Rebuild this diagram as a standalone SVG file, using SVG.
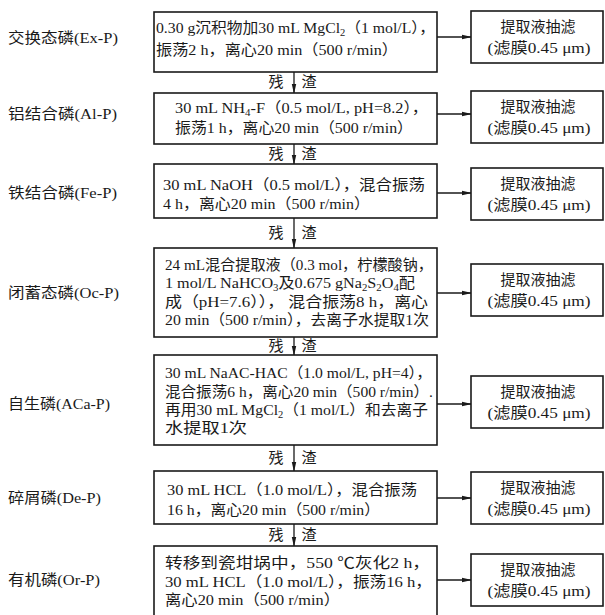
<svg xmlns="http://www.w3.org/2000/svg" width="605" height="615" viewBox="0 0 605 615">
<style>
text{font-family:"Liberation Serif","Noto Sans CJK SC",serif;font-size:15px;fill:#1a1a1a}
.lbl{font-size:15px}
.box{fill:#fff;stroke:#1a1a1a;stroke-width:1.6}
.ln{stroke:#1a1a1a;stroke-width:1.3;fill:none}
.sub{font-size:10px}
.c{text-anchor:middle}
</style>
<defs>
<marker id="ah" markerWidth="10" markerHeight="6" refX="9" refY="3" orient="auto" markerUnits="userSpaceOnUse">
<path d="M0,0.8 L10,3 L0,5.2 z" fill="#1a1a1a"/>
</marker>
</defs>
<rect width="605" height="615" fill="#fff"/>

<g id="labels">
<text class="lbl" x="8" y="43" textLength="110" lengthAdjust="spacingAndGlyphs">交换态磷(Ex-P)</text>
<text class="lbl" x="8" y="119" textLength="109" lengthAdjust="spacingAndGlyphs">铝结合磷(Al-P)</text>
<text class="lbl" x="8" y="198" textLength="109" lengthAdjust="spacingAndGlyphs">铁结合磷(Fe-P)</text>
<text class="lbl" x="8" y="298" textLength="111" lengthAdjust="spacingAndGlyphs">闭蓄态磷(Oc-P)</text>
<text class="lbl" x="8" y="409" textLength="102" lengthAdjust="spacingAndGlyphs">自生磷(ACa-P)</text>
<text class="lbl" x="8" y="503" textLength="93" lengthAdjust="spacingAndGlyphs">碎屑磷(De-P)</text>
<text class="lbl" x="8" y="585" textLength="92" lengthAdjust="spacingAndGlyphs">有机磷(Or-P)</text>
</g>

<g id="connectors">
<line class="ln" x1="437" y1="37" x2="471" y2="37" marker-end="url(#ah)"/>
<line class="ln" x1="437" y1="114" x2="471" y2="114" marker-end="url(#ah)"/>
<line class="ln" x1="437" y1="193" x2="471" y2="193" marker-end="url(#ah)"/>
<line class="ln" x1="437" y1="293" x2="471" y2="293" marker-end="url(#ah)"/>
<line class="ln" x1="437" y1="404" x2="471" y2="404" marker-end="url(#ah)"/>
<line class="ln" x1="437" y1="498" x2="471" y2="498" marker-end="url(#ah)"/>
<line class="ln" x1="437" y1="580" x2="471" y2="580" marker-end="url(#ah)"/>
<line class="ln" x1="294" y1="72" x2="294" y2="93" marker-end="url(#ah)"/>
<line class="ln" x1="294" y1="144" x2="294" y2="164" marker-end="url(#ah)"/>
<line class="ln" x1="294" y1="218" x2="294" y2="248" marker-end="url(#ah)"/>
<line class="ln" x1="294" y1="337" x2="294" y2="355" marker-end="url(#ah)"/>
<line class="ln" x1="294" y1="445" x2="294" y2="471" marker-end="url(#ah)"/>
<line class="ln" x1="294" y1="524" x2="294" y2="546" marker-end="url(#ah)"/>
<g id="residue-labels">
<text class="c" x="276" y="87">残</text><text class="c" x="309" y="87">渣</text>
<text class="c" x="276" y="159">残</text><text class="c" x="309" y="159">渣</text>
<text class="c" x="276" y="238">残</text><text class="c" x="309" y="238">渣</text>
<text class="c" x="276" y="351">残</text><text class="c" x="309" y="351">渣</text>
<text class="c" x="276" y="463">残</text><text class="c" x="309" y="463">渣</text>
<text class="c" x="276" y="540">残</text><text class="c" x="309" y="540">渣</text>
</g>
</g>

<g id="step1">
<rect class="box" x="154" y="12" width="283" height="60"/>
<text x="156" y="33" textLength="279" lengthAdjust="spacingAndGlyphs">0.30 g沉积物加30 mL MgCl<tspan class="sub" dy="3">2</tspan><tspan dy="-3">（1 mol/L），</tspan></text>
<text x="156" y="55" textLength="242" lengthAdjust="spacingAndGlyphs">振荡2 h，离心20 min（500 r/min）</text>
</g>
<g id="step2">
<rect class="box" x="154" y="93" width="283" height="51"/>
<text x="175" y="113" textLength="253" lengthAdjust="spacingAndGlyphs">30 mL NH<tspan class="sub" dy="3">4</tspan><tspan dy="-3">-F（0.5 mol/L, pH=8.2），</tspan></text>
<text x="175" y="133" textLength="238" lengthAdjust="spacingAndGlyphs">振荡1 h，离心20 min（500 r/min）</text>
</g>
<g id="step3">
<rect class="box" x="154" y="164" width="283" height="54"/>
<text x="163" y="190" textLength="262" lengthAdjust="spacingAndGlyphs">30 mL NaOH（0.5 mol/L），混合振荡</text>
<text x="163" y="209" textLength="207" lengthAdjust="spacingAndGlyphs">4 h，离心20 min（500 r/min）</text>
</g>
<g id="step4">
<rect class="box" x="154" y="248" width="283" height="89"/>
<text x="165" y="270" textLength="268" lengthAdjust="spacingAndGlyphs">24 mL混合提取液（0.3 mol，柠檬酸钠，</text>
<text x="165" y="288" textLength="250" lengthAdjust="spacingAndGlyphs">1 mol/L NaHCO<tspan class="sub" dy="3">3</tspan><tspan dy="-3">及0.675 gNa</tspan><tspan class="sub" dy="3">2</tspan><tspan dy="-3">S</tspan><tspan class="sub" dy="3">2</tspan><tspan dy="-3">O</tspan><tspan class="sub" dy="3">4</tspan><tspan dy="-3">配</tspan></text>
<text x="165" y="307" textLength="263" lengthAdjust="spacingAndGlyphs">成（pH=7.6））， 混合振荡8 h，离心</text>
<text x="165" y="325" textLength="264" lengthAdjust="spacingAndGlyphs">20 min（500 r/min），去离子水提取1次</text>
</g>
<g id="step5">
<rect class="box" x="154" y="355" width="283" height="90"/>
<text x="165" y="378" textLength="267" lengthAdjust="spacingAndGlyphs">30 mL NaAC-HAC（1.0 mol/L, pH=4），</text>
<text x="165" y="397" textLength="268" lengthAdjust="spacingAndGlyphs">混合振荡6 h，离心20 min（500 r/min）.</text>
<text x="165" y="415" textLength="263" lengthAdjust="spacingAndGlyphs">再用30 mL MgCl<tspan class="sub" dy="3">2</tspan><tspan dy="-3">（1 mol/L）和去离子</tspan></text>
<text x="165" y="433" textLength="82" lengthAdjust="spacingAndGlyphs">水提取1次</text>
</g>
<g id="step6">
<rect class="box" x="154" y="471" width="283" height="53"/>
<text x="167" y="495" textLength="250" lengthAdjust="spacingAndGlyphs">30 mL HCL（1.0 mol/L），混合振荡</text>
<text x="167" y="515" textLength="213" lengthAdjust="spacingAndGlyphs">16 h，离心20 min（500 r/min）</text>
</g>
<g id="step7">
<rect class="box" x="154" y="546" width="283" height="80"/>
<text x="165" y="568" textLength="265" lengthAdjust="spacingAndGlyphs">转移到瓷坩埚中，550 ℃灰化2 h，</text>
<text x="165" y="587" textLength="267" lengthAdjust="spacingAndGlyphs">30 mL HCL（1.0 mol/L），振荡16 h，</text>
<text x="165" y="605" textLength="175" lengthAdjust="spacingAndGlyphs">离心20 min（500 r/min）</text>
</g>

<g id="filter1"><rect class="box" x="471" y="11" width="132" height="52"/>
<text class="c" x="538" y="32">提取液抽滤</text><text class="c" x="539" y="53" textLength="103" lengthAdjust="spacingAndGlyphs">(滤膜0.45 μm)</text></g>
<g id="filter2"><rect class="box" x="471" y="91" width="132" height="52"/>
<text class="c" x="538" y="112">提取液抽滤</text><text class="c" x="539" y="133" textLength="103" lengthAdjust="spacingAndGlyphs">(滤膜0.45 μm)</text></g>
<g id="filter3"><rect class="box" x="471" y="168" width="132" height="52"/>
<text class="c" x="538" y="189">提取液抽滤</text><text class="c" x="539" y="210" textLength="103" lengthAdjust="spacingAndGlyphs">(滤膜0.45 μm)</text></g>
<g id="filter4"><rect class="box" x="471" y="264" width="132" height="52"/>
<text class="c" x="538" y="285">提取液抽滤</text><text class="c" x="539" y="306" textLength="103" lengthAdjust="spacingAndGlyphs">(滤膜0.45 μm)</text></g>
<g id="filter5"><rect class="box" x="471" y="376" width="132" height="52"/>
<text class="c" x="538" y="397">提取液抽滤</text><text class="c" x="539" y="418" textLength="103" lengthAdjust="spacingAndGlyphs">(滤膜0.45 μm)</text></g>
<g id="filter6"><rect class="box" x="471" y="472" width="132" height="52"/>
<text class="c" x="538" y="493">提取液抽滤</text><text class="c" x="539" y="514" textLength="103" lengthAdjust="spacingAndGlyphs">(滤膜0.45 μm)</text></g>
<g id="filter7"><rect class="box" x="471" y="554" width="132" height="52"/>
<text class="c" x="538" y="575">提取液抽滤</text><text class="c" x="539" y="596" textLength="103" lengthAdjust="spacingAndGlyphs">(滤膜0.45 μm)</text></g>
</svg>
